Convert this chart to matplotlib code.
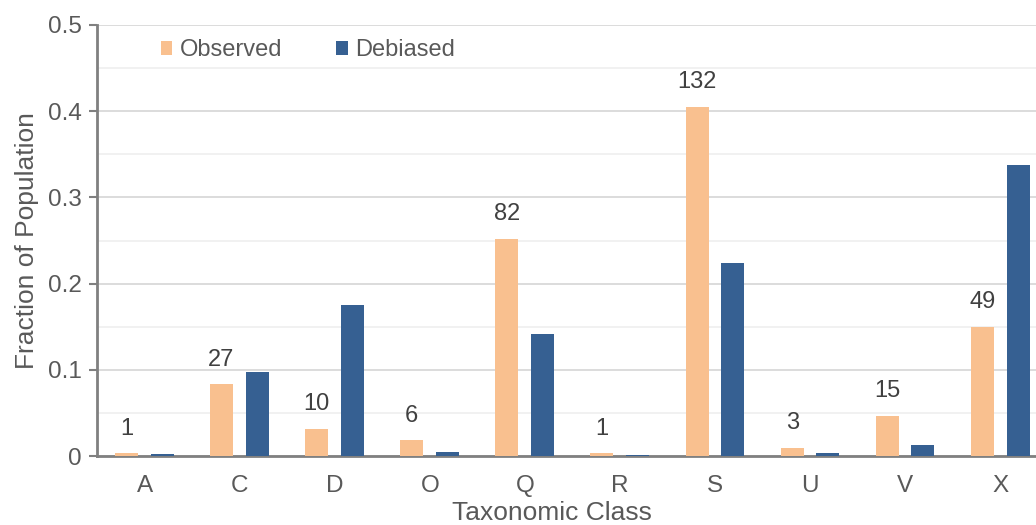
import matplotlib
matplotlib.use("Agg")
import matplotlib.pyplot as plt
import numpy as np
from matplotlib.ticker import MultipleLocator

plt.rcParams['font.family'] = ['Liberation Sans', 'DejaVu Sans']

classes = ['A', 'C', 'D', 'O', 'Q', 'R', 'S', 'U', 'V', 'X']
counts = [1, 27, 10, 6, 82, 1, 132, 3, 15, 49]
observed = [0.003, 0.083, 0.031, 0.018, 0.252, 0.003, 0.405, 0.009, 0.046, 0.150]
debiased = [0.002, 0.098, 0.175, 0.005, 0.141, 0.001, 0.224, 0.004, 0.013, 0.338]

ORANGE = '#F9C08F'
BLUE = '#366092'
GRAY = '#595959'

fig = plt.figure(figsize=(10.36, 5.25), dpi=100)
ax = fig.add_axes([0.0936, 0.1314, 0.918, 0.821])

x = np.arange(len(classes))
w = 0.242
ax.bar(x - 0.19, observed, w, color=ORANGE, label='Observed', zorder=3)
ax.bar(x + 0.185, debiased, w, color=BLUE, label='Debiased', zorder=3)

# counts above the observed bars
for xi, val, n in zip(x, observed, counts):
    ax.annotate(str(n), (xi - 0.19, val), xytext=(0, 10), textcoords='offset points',
                ha='center', va='bottom', fontsize=17, color='#404040')

ax.set_xlim(-0.5, len(classes) - 0.5)
ax.set_ylim(0, 0.5)
ax.yaxis.set_minor_locator(MultipleLocator(0.05))
ax.set_yticks(np.arange(0, 0.51, 0.1))
ax.set_yticklabels(['0', '0.1', '0.2', '0.3', '0.4', '0.5'])
ax.set_xticks(x)
ax.set_xticklabels(classes)

ax.grid(axis='y', which='major', color='#D9D9D9', linewidth=1.3, zorder=0)
ax.grid(axis='y', which='minor', color='#F0F0F0', linewidth=1.3, zorder=0)

for s in ['top', 'right']:
    ax.spines[s].set_visible(False)
for s in ['left', 'bottom']:
    ax.spines[s].set_color('#808080')
    ax.spines[s].set_linewidth(2)
ax.tick_params(axis='y', which='major', length=6, width=1.5, color='#808080',
               labelsize=17.5, labelcolor=GRAY, pad=5)
ax.tick_params(axis='y', which='minor', length=0)
ax.tick_params(axis='x', length=0, labelsize=17.5, labelcolor=GRAY, pad=14)

ax.set_ylabel('Fraction of Population', fontsize=19, color=GRAY, labelpad=6)
ax.set_xlabel('Taxonomic Class', fontsize=19, color=GRAY, labelpad=2)
ax.xaxis.set_label_coords(0.478, -0.105)

leg = ax.legend(loc='upper left', bbox_to_anchor=(0.052, 1.0), ncol=2, frameon=False,
                fontsize=17, handlelength=0.5, handleheight=0.5, handletextpad=0.3,
                columnspacing=2.3, borderaxespad=0.2)
for t in leg.get_texts():
    t.set_color(GRAY)

fig.savefig('out.png', dpi=100)
